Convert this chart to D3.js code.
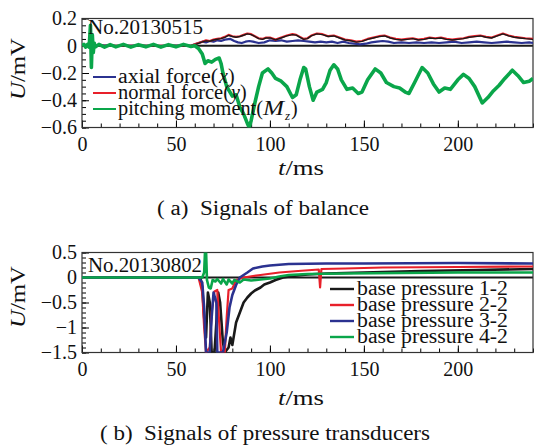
<!DOCTYPE html>
<html>
<head>
<meta charset="utf-8">
<script src="https://cdn.jsdelivr.net/npm/d3@7"></script>
<style>
  body { margin: 0; background: #fff; }
  svg, svg text { font-family: "Liberation Serif", "Times New Roman", "DejaVu Serif", serif; }
</style>
</head>
<body>
<div id="chart"></div>
<script>
// ---- data (t in ms, U in mV) ----
const xTicks = [0, 50, 100, 150, 200];
const topYTicks = [0.2, 0, -0.2, -0.4, -0.6];
const topYLabels = ["0.2", "0", "\u22120.2", "\u22120.4", "\u22120.6"];
const botYTicks = [0.5, 0, -0.5, -1, -1.5];
const botYLabels = ["0.5", "0", "\u22120.5", "\u22121", "\u22121.5"];

const axialForce = [[0,0],[10,0.003],[20,-0.002],[30,0.002],[40,-0.002],[50,0.002],[58,0],[60,0.01],[62,0.02],[64,0.03],[66,0.025],[68,0.035],[70,0.03],[72,0.04],[74,0.035],[76,0.045],[79,0.05],[81,0.035],[83,0.025],[85,0.02],[87,0.03],[89,0.035],[91,0.03],[94,0.02],[97,0.025],[100,0.04],[103,0.035],[106,0.04],[109,0.03],[112,0.035],[115,0.04],[118,0.035],[121,0.03],[124,0.025],[127,0.03],[130,0.025],[133,0.03],[136,0.02],[139,0.03],[142,0.02],[145,0.015],[148,0.01],[151,0.015],[154,0.025],[157,0.03],[160,0.035],[163,0.03],[166,0.02],[170,0.025],[174,0.02],[178,0.025],[182,0.02],[186,0.025],[190,0.02],[194,0.025],[198,0.03],[202,0.02],[206,0.025],[210,0.03],[214,0.025],[218,0.02],[222,0.025],[226,0.03],[230,0.025],[234,0.02],[238,0.025],[240,0.02]];

const normalForce = [[0,0],[58,0],[60,0.01],[62,0.02],[64,0.03],[66,0.04],[68,0.035],[70,0.045],[72,0.05],[74,0.055],[76,0.065],[78,0.08],[80,0.07],[82,0.065],[84,0.07],[86,0.08],[88,0.09],[90,0.085],[92,0.07],[94,0.055],[96,0.05],[98,0.06],[100,0.06],[103,0.045],[106,0.06],[109,0.075],[112,0.085],[114,0.08],[116,0.065],[118,0.05],[120,0.055],[122,0.075],[125,0.09],[128,0.085],[131,0.07],[134,0.075],[137,0.06],[140,0.045],[143,0.04],[146,0.03],[149,0.035],[152,0.05],[155,0.06],[158,0.07],[161,0.075],[164,0.06],[167,0.05],[170,0.045],[173,0.05],[176,0.055],[179,0.045],[182,0.05],[185,0.06],[188,0.055],[191,0.06],[194,0.05],[197,0.045],[200,0.05],[203,0.055],[206,0.065],[209,0.07],[212,0.075],[215,0.065],[218,0.06],[221,0.075],[224,0.09],[227,0.075],[230,0.065],[233,0.06],[236,0.055],[240,0.05]];

const otherForce = [[0,0],[58,0],[60,0.008],[62,0.018],[64,0.028],[66,0.036],[68,0.033],[70,0.042],[72,0.048],[74,0.052],[76,0.062],[78,0.076],[80,0.068],[82,0.062],[84,0.068],[86,0.077],[88,0.087],[90,0.082],[92,0.068],[94,0.052],[96,0.047],[98,0.057],[100,0.058],[103,0.043],[106,0.057],[109,0.072],[112,0.082],[114,0.078],[116,0.062],[118,0.047],[120,0.052],[122,0.072],[125,0.087],[128,0.082],[131,0.068],[134,0.072],[137,0.057],[140,0.042],[143,0.037],[146,0.027],[149,0.032],[152,0.047],[155,0.057],[158,0.067],[161,0.072],[164,0.057],[167,0.047],[170,0.042],[173,0.047],[176,0.052],[179,0.042],[182,0.047],[185,0.057],[188,0.052],[191,0.057],[194,0.047],[197,0.042],[200,0.047],[203,0.052],[206,0.062],[209,0.067],[212,0.072],[215,0.062],[218,0.057],[221,0.072],[224,0.087],[227,0.072],[230,0.062],[233,0.057],[236,0.052],[240,0.047]];

const pitchingMoment = [[0,0],[1,0.01],[2,-0.01],[3,0.01],[3.8,-0.01],[4.5,0.15],[5,-0.16],[5.5,0.08],[6,-0.05],[6.5,0.02],[7,-0.01],[9,0.01],[12,-0.01],[15,0.008],[18,-0.008],[22,0.01],[26,-0.01],[30,0.008],[34,-0.008],[38,0.01],[42,-0.01],[46,0.008],[50,-0.008],[54,0.01],[58,-0.005],[60,0],[62,-0.02],[64,-0.06],[65.5,-0.13],[67,-0.11],[69,-0.12],[71,-0.1],[73,-0.09],[74,-0.13],[75,-0.2],[77,-0.3],[80,-0.37],[82,-0.36],[84,-0.45],[86,-0.5],[88,-0.57],[89,-0.6],[90,-0.55],[92,-0.42],[94,-0.3],[96,-0.2],[99,-0.17],[101,-0.2],[103,-0.24],[106,-0.26],[109,-0.3],[112,-0.38],[114,-0.36],[116,-0.25],[118,-0.16],[119,-0.17],[121,-0.3],[123,-0.4],[125,-0.34],[128,-0.32],[130,-0.27],[132,-0.18],[134,-0.14],[136,-0.17],[138,-0.25],[141,-0.32],[144,-0.31],[147,-0.35],[149,-0.34],[152,-0.25],[156,-0.17],[159,-0.2],[162,-0.27],[166,-0.3],[169,-0.31],[172,-0.34],[174,-0.35],[177,-0.27],[181,-0.16],[184,-0.2],[187,-0.28],[190,-0.34],[193,-0.31],[196,-0.32],[200,-0.25],[203,-0.21],[206,-0.24],[209,-0.3],[213,-0.42],[216,-0.38],[219,-0.33],[222,-0.29],[225,-0.24],[229,-0.18],[232,-0.22],[235,-0.27],[238,-0.26],[240,-0.24]];

const bp12 = [[0,0],[63,0],[64,-0.2],[65,-0.8],[66,-1.2],[67,-0.3],[68,-0.5],[69,-1.5],[70.5,-1.5],[71.5,-0.9],[72.5,-0.3],[73.5,-0.5],[75,-1.3],[76,-1.5],[78,-1.4],[79,-1.2],[80,-1.35],[82,-0.9],[84,-0.7],[86,-0.5],[88,-0.4],[90,-0.32],[92,-0.26],[95,-0.2],[97,-0.14],[100,-0.1],[103,-0.05],[107,0],[112,0.03],[120,0.06],[130,0.08],[150,0.1],[180,0.13],[210,0.15],[240,0.17]];
const bp22 = [[0,0],[62,0],[64,-0.3],[65,-1.0],[66,-1.5],[68,-1.4],[69,-0.7],[70.5,-0.28],[72,-0.25],[73,-0.9],[74,-1.5],[76,-1.5],[77,-0.8],[78,-0.25],[80,-0.22],[82,-0.05],[86,0],[95,0.05],[105,0.1],[115,0.13],[126,0.16],[126.7,-0.2],[127.4,0.17],[140,0.18],[160,0.2],[200,0.21],[240,0.22]];
const bp32 = [[0,0],[62,0],[64,-0.1],[65,-0.6],[66,-1.5],[68,-1.5],[69,-0.8],[70,-0.3],[71.5,-0.5],[72,-1.5],[75,-1.5],[77,-1.1],[78.5,-0.6],[80,-0.35],[82,-0.15],[84,0],[88,0.1],[91,0.18],[96,0.22],[100,0.24],[110,0.27],[130,0.28],[150,0.28],[200,0.29],[240,0.28]];
const bp42 = [[0,0],[64,0],[65,0.1],[65.5,0.55],[66,0.55],[66.5,-0.05],[67.5,-0.2],[68.5,-0.22],[69.5,-0.05],[71,-0.08],[72,-0.03],[74,-0.12],[75,-0.03],[77,-0.14],[78,-0.04],[80,-0.12],[81,-0.05],[84,-0.1],[86,-0.04],[90,-0.06],[95,-0.04],[100,-0.02],[105,0.02],[110,0.05],[120,0.07],[140,0.08],[170,0.09],[200,0.1],[240,0.1]];

const colBlue = "#2b3290", colRed = "#e8202a", colGreen = "#0aa64a", colBlack = "#1a1a1a";
const serif = "'Liberation Serif', 'Times New Roman', 'DejaVu Serif', serif";

// ---- layout ----
const svg = d3.select("#chart").append("svg")
  .attr("width", 535).attr("height", 448)
  .style("font-family", serif);

const x = d3.scaleLinear().domain([0, 240]).range([82, 533]);
const yTop = d3.scaleLinear().domain([-0.6, 0.2]).range([127.5, 18.5]);
const yBot = d3.scaleLinear().domain([-1.5, 0.5]).range([352.5, 252.5]);

function styleText(sel) {
  sel.style("font-family", serif).attr("font-size", 20).attr("fill", "#111");
}
// the printed face is wider than Liberation Serif, so stretch to the measured widths
function fit(sel, w) {
  sel.attr("textLength", w).attr("lengthAdjust", "spacingAndGlyphs");
}

function panel(y, yTicks, yLabels, yMinor, id) {
  const g = svg.append("g");
  const [y0, y1] = y.range();
  g.append("clipPath").attr("id", id).append("rect")
    .attr("x", x.range()[0]).attr("y", y1)
    .attr("width", x.range()[1] - x.range()[0]).attr("height", y0 - y1);

  // zero line
  g.append("line")
    .attr("x1", x(0)).attr("x2", x(240))
    .attr("y1", y(0)).attr("y2", y(0))
    .attr("stroke", colBlack).attr("stroke-width", 2);

  // minor ticks
  g.append("g").attr("transform", `translate(0,${y0})`)
    .call(d3.axisBottom(x).tickValues(d3.range(0, 241, 10)).tickSize(-4).tickFormat(""))
    .call(a => a.select(".domain").remove());
  g.append("g").attr("transform", `translate(${x(0)},0)`)
    .call(d3.axisLeft(y).tickValues(yMinor).tickSize(-4).tickFormat(""))
    .call(a => a.select(".domain").remove());

  // major ticks
  g.append("g").attr("transform", `translate(0,${y0})`)
    .call(d3.axisBottom(x).tickValues(xTicks).tickSize(-7).tickPadding(9))
    .attr("font-family", null)
    .call(a => a.select(".domain").remove())
    .call(a => a.selectAll("text").call(styleText));
  g.append("g").attr("transform", `translate(${x(0)},0)`)
    .call(d3.axisLeft(y).tickValues(yTicks).tickSize(-7).tickPadding(5)
      .tickFormat((d, i) => yLabels[i]))
    .attr("font-family", null)
    .call(a => a.select(".domain").remove())
    .call(a => a.selectAll("text").call(styleText));

  // frame
  g.append("rect")
    .attr("x", x.range()[0]).attr("y", y1)
    .attr("width", x.range()[1] - x.range()[0]).attr("height", y0 - y1)
    .attr("fill", "none").attr("stroke", "#333").attr("stroke-width", 1.2);

  const plot = g.append("g").attr("clip-path", `url(#${id})`);
  return { g, plot };
}

function drawLine(plot, y, data, color, w) {
  const line = d3.line().x(d => x(d[0])).y(d => y(d[1]));
  plot.append("path").datum(data)
    .attr("fill", "none").attr("stroke", color)
    .attr("stroke-width", w).attr("stroke-linejoin", "round")
    .attr("d", line);
}

// ---- (a) balance ----
const A = panel(yTop, topYTicks, topYLabels, d3.range(-0.6, 0.2001, 0.05), "clipA");
drawLine(A.plot, yTop, axialForce, colBlue, 2.2);
drawLine(A.plot, yTop, normalForce, colRed, 2.2);
drawLine(A.plot, yTop, otherForce, colBlack, 1.4);
drawLine(A.plot, yTop, pitchingMoment, colGreen, 3.6);

A.g.append("text").attr("x", 88).attr("y", 34).call(styleText).call(fit, 115).text("No.20130515");

// legend pieces: [text, style, x, width]
const legA = [
  { color: colBlue, y: 77, parts: [["axial force(", "", 118, 100], ["x", "i", 219, 0], [")", "", 228, 0]] },
  { color: colRed, y: 93, parts: [["normal force(", "", 118, 112], ["y", "i", 231, 0], [")", "", 240, 0]] },
  { color: colGreen, y: 109, parts: [["pitching moment(", "", 118, 145], ["M", "i", 263, 21], ["z", "s", 285, 0], [")", "", 291, 0]] }
];
legA.forEach(r => {
  A.g.append("line").attr("x1", 93).attr("x2", 116)
    .attr("y1", r.y).attr("y2", r.y).attr("stroke", r.color).attr("stroke-width", 2);
  r.parts.forEach(p => {
    const t = A.g.append("text").attr("x", p[2]).attr("y", r.y + 6).call(styleText).text(p[0]);
    if (p[3]) t.call(fit, p[3]);
    if (p[1] === "i") t.attr("font-style", "italic");
    if (p[1] === "s") t.attr("font-style", "italic").attr("font-size", 13).attr("y", r.y + 11);
  });
});

// axis titles
function yTitle(cy) {
  const t = svg.append("text")
    .attr("transform", `translate(25,${cy}) rotate(-90)`)
    .attr("text-anchor", "middle").call(styleText).call(fit, 62);
  t.append("tspan").attr("font-style", "italic").text("U");
  t.append("tspan").text("/mV");
}
function xTitle(by) {
  const t = svg.append("text").attr("x", 301).attr("y", by)
    .attr("text-anchor", "middle").call(styleText).call(fit, 46);
  t.append("tspan").attr("font-style", "italic").text("t");
  t.append("tspan").text("/ms");
}
yTitle(69);
xTitle(175);
svg.append("text").attr("x", 263).attr("y", 215).attr("text-anchor", "middle")
  .call(styleText).call(fit, 212).style("white-space", "pre")
  .text("( a)  Signals of balance");

// ---- (b) pressure ----
const B = panel(yBot, botYTicks, botYLabels, d3.range(-1.5, 0.5001, 0.1), "clipB");
drawLine(B.plot, yBot, bp12, colBlack, 2.6);
drawLine(B.plot, yBot, bp22, colRed, 2.2);
drawLine(B.plot, yBot, bp32, colBlue, 2.6);
drawLine(B.plot, yBot, bp42, colGreen, 2.6);

B.g.append("text").attr("x", 88).attr("y", 272).call(styleText).call(fit, 114).text("No.20130802");

const legB = [
  { color: colBlack, label: "base pressure 1-2" },
  { color: colRed, label: "base pressure 2-2" },
  { color: colBlue, label: "base pressure 3-2" },
  { color: colGreen, label: "base pressure 4-2" }
];
legB.forEach((r, i) => {
  const cy = 289 + i * 16;
  B.g.append("line").attr("x1", 330).attr("x2", 354)
    .attr("y1", cy).attr("y2", cy).attr("stroke", r.color).attr("stroke-width", 2.4);
  B.g.append("text").attr("x", 357).attr("y", cy + 6).call(styleText).call(fit, 151).text(r.label);
});

yTitle(297);
xTitle(405);
svg.append("text").attr("x", 265).attr("y", 440).attr("text-anchor", "middle")
  .call(styleText).call(fit, 330).style("white-space", "pre")
  .text("( b)  Signals of pressure transducers");
</script>
</body>
</html>
